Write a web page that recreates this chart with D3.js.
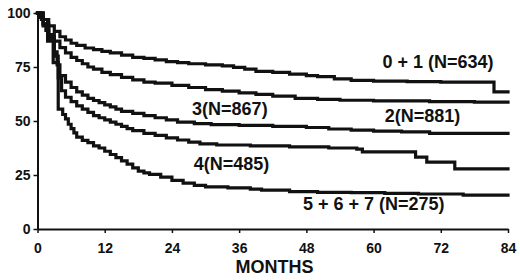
<!DOCTYPE html>
<html><head><meta charset="utf-8">
<script src="https://cdn.jsdelivr.net/npm/d3@7"></script>
<style>
html,body{margin:0;padding:0;background:#fff;}
svg{display:block;font-family:"Liberation Sans",Arial,Helvetica,sans-serif;}
</style></head>
<body><svg id="c" width="520" height="280"></svg>
<script>
// ---- data ----
const xTicks = [0, 12, 24, 36, 48, 60, 72, 84];
const yTicks = [0, 25, 50, 75, 100];
const seriesNames = ["0 + 1 (N=634)", "2(N=881)", "3(N=867)", "4(N=485)", "5 + 6 + 7 (N=275)"];

const monthsA = [0,1,2,3,4,5,6,7,8.5,10,11.5,13,15,17,19,21,23,25,27,30,33,35,37,39,42,45,48,50,53,56,60,66,72,81.5,84];
const survA   = [100,97,94,91.5,89,87.5,86,85,83.8,83,82.2,81.5,80.5,79.5,79,78.3,77.5,77,76.5,76,75.5,74.8,74,73,72.5,71.7,71,70.5,69.5,68.8,68.5,68.2,68,63.5,63.5];

const monthsB = [0,0.5,1,1.5,2,3,4,5,6,7,8,9,10,11.5,13,15,17,19,21,24,27,30,33,36,39,42,46,50,54,60,70,78,84];
const survB   = [100,98,95,92,90,87,84,81.5,79.5,78,76.5,75,74,72.5,71.5,70.2,69,68,67.5,66.5,65.5,64.5,63.8,63,62.3,61.5,60.5,60,59.6,59.3,59,58.7,58.7];

const monthsC = [0,1,2,3,3.5,4,5,6,7,8,9,10,11,12,13,14,15,17,19,21,23,25,28,31,36,42,48,52,56,60,65,70,84];
const survC   = [100,95,89,82,76,71,68,65.5,63.5,62,60.5,59.5,58.5,57.5,56.5,55.5,54.5,53.5,52.5,51.5,50.5,49.5,48.8,48.3,48,47.5,47,46.3,45.8,45.3,45,44.3,44.3];

const monthsD = [0,1,2,3,3.7,4.3,5,6,7,8,9,10,11,12,13,14,15,16,17,19,21,23,25,27,29,32,38,45,52,57,58,67.5,69.5,74.5,84];
const survD   = [100,94,88,80,70,64,61,59,57,55.5,54,52.5,51.5,50.5,49.5,48.5,47.5,46.5,45.5,44.3,43.3,42.2,41.2,40.2,39.4,38.9,38.5,38,37.5,37,35.7,33.3,31,27.8,27.8];

const monthsE = [0,0.7,1.8,2.8,3.7,4.5,5,5.5,6,6.5,7,8,9,10,11,12,13,14,15,16,17,18,19,20,22,24,26,28,30,34,38,40,45,50,56,62,68,76,84];
const survE   = [100,97,87,77,55.5,53,51,48.5,46.5,44.5,42.5,41,40,38.5,37.5,36,34.5,33,31.5,30,28.3,26.8,26,25.3,24,22.5,21.2,20.2,19.5,19,18.5,18,17.3,17,16.8,16.5,16.2,15.7,15.7];

// label anchors in data units (month, percent)
const labelMonths = [61.6, 62, 27.6, 27.9, 47.4];
const labelSurv   = [74.5, 49.5, 52.8, 27.3, 8.8];

// ---- chart ----
const svg = d3.select("#c");
const x = d3.scaleLinear().domain([0, 84]).range([37.5, 508]);
const y = d3.scaleLinear().domain([0, 100]).range([229, 13]);
const ink = "#111";

const series = [
  d3.zip(monthsA, survA), d3.zip(monthsB, survB), d3.zip(monthsC, survC),
  d3.zip(monthsD, survD), d3.zip(monthsE, survE)
];

const line = d3.line().x(d => x(d[0])).y(d => y(d[1])).curve(d3.curveStepAfter);

// axes
const yAxis = svg.append("g").attr("transform", `translate(${x(0)},0)`)
  .call(d3.axisLeft(y).tickValues(yTicks).tickFormat(d3.format("d")).tickSize(4).tickSizeOuter(0).tickPadding(3));
const xAxis = svg.append("g").attr("transform", `translate(0,${y(0)})`)
  .call(d3.axisBottom(x).tickValues(xTicks).tickFormat(d3.format("d")).tickSize(4).tickSizeOuter(0).tickPadding(10));
[yAxis, xAxis].forEach(g => {
  g.select(".domain").attr("stroke", ink).attr("stroke-width", 2);
  g.selectAll(".tick line").attr("stroke", ink).attr("stroke-width", 1.5);
  g.selectAll(".tick text").attr("fill", ink).attr("font-size", 14).attr("font-weight", "bold")
    .attr("font-family", "'Liberation Sans', Arial, sans-serif");
});

// curves
svg.append("g").selectAll("path").data(series).join("path")
  .attr("d", line).attr("fill", "none").attr("stroke", ink)
  .attr("stroke-width", 3.2).attr("stroke-linejoin", "miter").attr("stroke-linecap", "square");

// labels
svg.append("g").selectAll("text").data(seriesNames).join("text")
  .attr("x", (d, i) => x(labelMonths[i])).attr("y", (d, i) => y(labelSurv[i]))
  .attr("font-size", 18).attr("font-weight", "bold").attr("fill", ink)
  .text(d => d);

svg.append("text").attr("x", 274.5).attr("y", 273).attr("text-anchor", "middle")
  .attr("font-size", 18).attr("font-weight", "bold").attr("fill", ink).text("MONTHS");
</script></body></html>
